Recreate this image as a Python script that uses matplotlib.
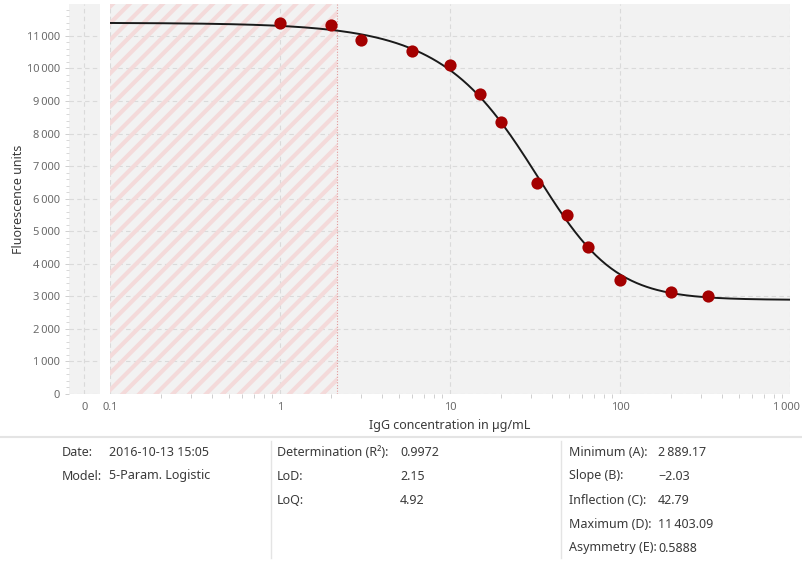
"""Standard curve, 5-parameter logistic fit with LoD shading."""
import matplotlib
matplotlib.use("Agg")
import matplotlib.pyplot as plt
import matplotlib.transforms as mtransforms
import numpy as np
from matplotlib.ticker import FixedLocator, MultipleLocator, FuncFormatter

plt.rcParams["font.family"] = ["Noto Sans", "DejaVu Sans"]
plt.rcParams["hatch.linewidth"] = 3.0

# measured standards
conc = [1, 2, 3, 6, 10, 15, 20, 32.5, 49, 65, 100, 200, 330]
signal = [11400, 11340, 10880, 10540, 10110, 9210, 8350, 6470, 5485, 4530, 3510, 3140, 3020]

# fit parameters (from the results table)
A_min = 2889.17
B_slope = -2.03
C_infl = 42.79
D_max = 11403.09
E_asym = 0.5888
lod = 2.15
loq = 4.92
r2 = 0.9972

x_ticks = [0.1, 1, 10, 100, 1000]
x_ticklabels = ["0.1", "1", "10", "100", "1\u2009000"]

BG = "#f2f2f2"
GRID = "#dadada"
TICKC = "#6a6a6a"
TEXTC = "#3a3a3a"


def thin(v, _pos=None):
    s = f"{int(round(v)):,}"
    return s.replace(",", "\u2009")


def five_pl(x):
    return D_max + (A_min - D_max) / (1 + (x / C_infl) ** B_slope) ** E_asym


fig = plt.figure(figsize=(8.03, 5.62), dpi=100)
W, H = 803, 562

def rect(x0, y0, x1, y1):
    return [x0 / W, 1 - y1 / H, (x1 - x0) / W, (y1 - y0) / H]

ax0 = fig.add_axes(rect(69, 4, 100, 394))
ax = fig.add_axes(rect(110, 4, 790, 394))

for a in (ax0, ax):
    a.set_facecolor(BG)
    a.set_ylim(0, 11980)
    for s in a.spines.values():
        s.set_visible(False)
    a.yaxis.set_major_locator(MultipleLocator(1000))
    a.grid(True, which="major", color=GRID, linestyle=(0, (4, 3)), linewidth=0.8)
    a.set_axisbelow(True)
    a.tick_params(colors=TICKC, labelsize=8, length=3, width=0.6)
    a.tick_params(axis="both", which="both", color="#c8c8c8")

# zero panel
ax0.set_xlim(-1, 1)
ax0.set_xticks([0])
ax0.set_xticklabels(["0"])
ax0.yaxis.set_minor_locator(MultipleLocator(200))
ax0.yaxis.set_major_formatter(FuncFormatter(thin))
ax0.tick_params(axis="y", which="minor", length=2, width=0.5)
ax0.tick_params(axis="x", length=0, pad=6)
ax0.set_ylabel("Fluorescence units", color=TEXTC, fontsize=9, labelpad=1)

# main log panel
ax.set_xscale("log")
ax.set_xlim(0.1, 1000)
ax.xaxis.set_major_locator(FixedLocator(x_ticks))
ax.set_xticklabels(x_ticklabels)
ax.tick_params(axis="x", which="major", length=0, pad=6)
ax.tick_params(axis="x", which="minor", length=3, width=0.6)
ax.tick_params(axis="y", left=False, labelleft=False)
ax.set_xlabel("IgG concentration in \u00b5g/mL", color=TEXTC, fontsize=9, labelpad=4)

# nudge the last tick label so it stays inside the canvas
last = ax.get_xticklabels()[-1]
last.set_transform(last.get_transform()
                   + mtransforms.ScaledTranslation(-4 / 100, 0, fig.dpi_scale_trans))

ax.axvspan(0.1, lod, facecolor="none", edgecolor="#f4dada", hatch="//", linewidth=0, zorder=1)
ax.axvline(lod, color="#e29a9a", linestyle=(0, (1, 1.5)), linewidth=0.8, zorder=2)

xs = np.logspace(-1, 3, 400)
ax.plot(xs, five_pl(xs), color="#1a1a1a", linewidth=1.4, zorder=3)
ax.plot(conc, signal, "o", color="#a40000", markersize=8.8, markeredgewidth=0, zorder=4)

# results table
fig.add_artist(plt.Line2D([0, 1], [1 - 437 / H] * 2, color="#e4e4e4", linewidth=1.5))
fig.add_artist(plt.Line2D([271 / W] * 2, [1 - 441 / H, 1 - 558 / H], color="#e4e4e4", linewidth=1))
fig.add_artist(plt.Line2D([561 / W] * 2, [1 - 441 / H, 1 - 558 / H], color="#e4e4e4", linewidth=1))

rows_y = [452, 476, 500, 524, 548]
col1 = [("Date:", "2016-10-13 15:05"), ("Model:", "5-Param. Logistic")]
col2 = [("Determination (R\u00b2):", f"{r2:.4f}"), ("LoD:", f"{lod:.2f}"), ("LoQ:", f"{loq:.2f}")]
col3 = [("Minimum (A):", f"{A_min:,.2f}".replace(",", "\u2009")),
        ("Slope (B):", f"\u2212{abs(B_slope):.2f}"),
        ("Inflection (C):", f"{C_infl:.2f}"),
        ("Maximum (D):", f"{D_max:,.2f}".replace(",", "\u2009")),
        ("Asymmetry (E):", f"{E_asym:.4f}")]

for items, xl, xv in [(col1, 62, 109), (col2, 277, 400), (col3, 569, 658)]:
    for (lab, val), yy in zip(items, rows_y):
        fig.text(xl / W, 1 - yy / H, lab, color=TEXTC, fontsize=9, va="center", ha="left")
        fig.text(xv / W, 1 - yy / H, val, color=TEXTC, fontsize=9, va="center", ha="left")

fig.savefig("out.png", dpi=100)
